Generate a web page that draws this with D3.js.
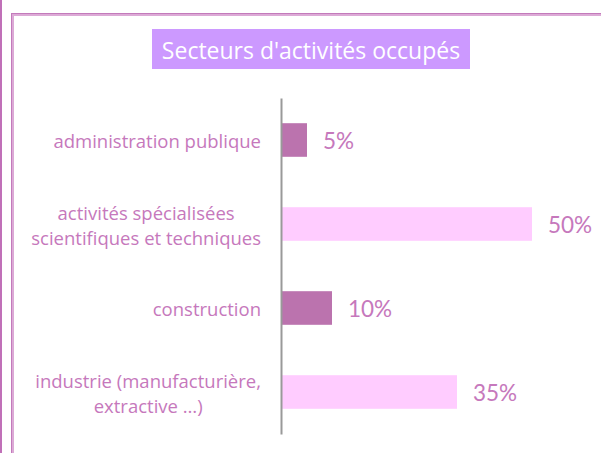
<!DOCTYPE html>
<html>
<head>
<meta charset="utf-8">
<script src="https://cdn.jsdelivr.net/npm/d3@7"></script>
<style>
  body { margin: 0; background: #fff; }
  svg { display: block; }
</style>
</head>
<body>
<script>
// chart data
var categories = [
    ["administration publique"],
    ["activités spécialisées", "scientifiques et techniques"],
    ["construction"],
    ["industrie (manufacturière,", "extractive …)"]
];
var values = [5, 50, 10, 35];
var valueLabels = ["5%", "50%", "10%", "35%"];
var barColors = ["#bb73ae", "#ffccff", "#bb73ae", "#ffccff"];
var title = "Secteurs d'activités occupés";

function init(){
    var width = 601;
    var height = 453;
    var textColor = "#c678bc";

    var svg = d3.select("body")
                .append("svg")
                .attr("width", width)
                .attr("height", height);

    // frame
    svg.append("line")
        .attr("x1", 1).attr("x2", 1)
        .attr("y1", 0).attr("y2", height)
        .attr("stroke", "#c070b8")
        .attr("stroke-width", 2);

    svg.append("rect")
        .attr("x", 12.5).attr("y", 14.5)
        .attr("width", width).attr("height", height)
        .attr("fill", "none")
        .attr("stroke", "#dcaad6")
        .attr("stroke-width", 3);
    svg.append("rect")
        .attr("x", 11.5).attr("y", 13.5)
        .attr("width", width).attr("height", height)
        .attr("fill", "none")
        .attr("stroke", "#c37abb")
        .attr("stroke-width", 1);

    // title
    svg.append("rect")
        .attr("x", 152).attr("y", 29)
        .attr("width", 318).attr("height", 40)
        .attr("fill", "#cc99ff");
    svg.append("text")
        .attr("x", 311).attr("y", 59)
        .attr("text-anchor", "middle")
        .attr("fill", "#ffffff")
        .style("font-family", "'Open Sans', sans-serif")
        .style("font-size", "23px")
        .text(title);

    var idx = d3.range(values.length);

    var y = d3.scaleBand()
        .domain(idx)
        .range([98, 434])
        .paddingInner(0.6)
        .paddingOuter(0.3);

    var x = d3.scaleLinear()
        .domain([0, 50])
        .range([282, 532]);

    // bars
    svg.selectAll(".bar")
        .data(idx)
        .enter()
        .append("rect")
        .attr("class", "bar")
        .attr("x", x(0))
        .attr("y", function(i) { return y(i); })
        .attr("width", function(i) { return x(values[i]) - x(0); })
        .attr("height", y.bandwidth())
        .attr("fill", function(i) { return barColors[i]; });

    // axis line
    var axis = d3.axisLeft(y).tickSize(0).tickFormat("");
    var axisG = svg.append("g")
        .attr("transform", "translate(281,0)")
        .call(axis);
    axisG.select(".domain")
        .attr("stroke", "#999999")
        .attr("stroke-width", 2);

    // value labels
    svg.selectAll(".val")
        .data(idx)
        .enter()
        .append("text")
        .attr("class", "val")
        .attr("x", function(i) { return x(values[i]) + 16; })
        .attr("y", function(i) { return y(i) + y.bandwidth() / 2 + 9; })
        .attr("fill", textColor)
        .style("font-family", "Lato, sans-serif")
        .style("font-size", "22.5px")
        .text(function(i) { return valueLabels[i]; });

    // category labels (multi-line, centred block, right aligned to the axis)
    var lineH = 25;
    idx.forEach(function(i) {
        var lines = categories[i];
        var g = svg.append("g");
        var cy = y(i) + y.bandwidth() / 2;
        var texts = lines.map(function(l, k) {
            return g.append("text")
                .attr("y", cy + 8 + (k - (lines.length - 1) / 2) * lineH)
                .attr("text-anchor", "middle")
                .attr("fill", textColor)
                .style("font-family", "'Open Sans', sans-serif")
                .style("font-size", "18.5px")
                .text(l);
        });
        var maxW = d3.max(texts, function(t) { return t.node().getComputedTextLength(); });
        texts.forEach(function(t) { t.attr("x", 261 - maxW / 2); });
    });
}

window.onload = init;
</script>
</body>
</html>
